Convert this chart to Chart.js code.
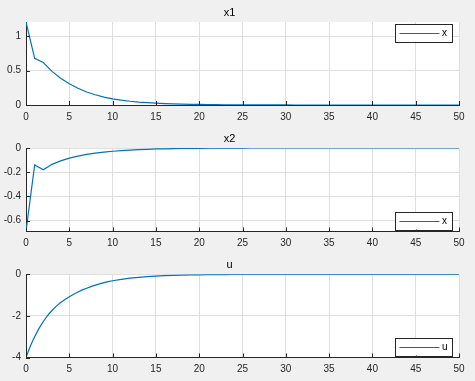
<!DOCTYPE html>
<html><head><meta charset="utf-8">
<script src="https://cdn.jsdelivr.net/npm/chart.js@4/dist/chart.umd.min.js"></script>
<style>
html,body{margin:0;padding:0;background:#f0f0f0;width:475px;height:381px;overflow:hidden;}
canvas{position:absolute;left:0;}
</style></head><body>
<canvas id="c1" width="475" height="125" style="top:0px"></canvas>
<canvas id="c2" width="475" height="126" style="top:125px"></canvas>
<canvas id="c3" width="475" height="130" style="top:251px"></canvas>
<script>
// ---- data ----
const tSteps = [0,1,2,3,4,5,6,7,8,9,10,11,12,13,14,15,16,17,18,19,20,21,22,23,24,25,26,27,28,29,30,31,32,33,34,35,36,37,38,39,40,41,42,43,44,45,46,47,48,49,50];
const x1Values = [1.21,0.68,0.62,0.49,0.39,0.31,0.245,0.19,0.15,0.115,0.09,0.07,0.055,0.043,0.034,0.027,0.021,0.017,0.013,0.010,0.008,0.006,0.005,0.004,0.003,0.002,0.002,0.001,0.001,0.001,0.001,0,0,0,0,0,0,0,0,0,0,0,0,0,0,0,0,0,0,0,0];
const x2Values = [-0.69,-0.14,-0.18,-0.135,-0.106,-0.084,-0.067,-0.053,-0.042,-0.034,-0.027,-0.021,-0.017,-0.013,-0.011,-0.008,-0.007,-0.005,-0.004,-0.003,-0.003,-0.002,-0.002,-0.001,-0.001,-0.001,0,0,0,0,0,0,0,0,0,0,0,0,0,0,0,0,0,0,0,0,0,0,0,0,0];
const tU = [0,0.5,1,1.5,2,2.5,3,3.5,4,4.5,5,5.5,6,6.5,7,7.5,8,8.5,9,9.5,10,11,12,13,14,15,16,17,18,19,20,21,22,23,24,25,26,27,28,29,30,31,32,33,34,35,36,37,38,39,40,41,42,43,44,45,46,47,48,49,50];
const uValues = [-4,-3.45,-3.0,-2.6,-2.27,-1.98,-1.74,-1.53,-1.36,-1.21,-1.08,-0.96,-0.85,-0.75,-0.67,-0.59,-0.52,-0.46,-0.40,-0.35,-0.31,-0.24,-0.185,-0.145,-0.11,-0.087,-0.067,-0.052,-0.04,-0.031,-0.024,-0.019,-0.015,-0.011,-0.009,-0.007,-0.005,-0.004,-0.003,-0.002,-0.002,-0.001,-0.001,-0.001,0,0,0,0,0,0,0,0,0,0,0,0,0,0,0,0,0];
const xTicks = [0,5,10,15,20,25,30,35,40,45,50];
const xTickLabels = ['0','5','10','15','20','25','30','35','40','45','50'];
const y1Ticks = [0,0.5,1];
const y1TickLabels = ['0','0.5','1'];
const y2Ticks = [-0.6,-0.4,-0.2,0];
const y2TickLabels = ['-0.6','-0.4','-0.2','0'];
const y3Ticks = [-4,-2,0];
const y3TickLabels = ['-4','-2','0'];
const titles = ['x1','x2','u'];
const seriesLabels = ['x','x','u'];

// ---- styling ----
const AX = '#262626', GRID = '#dfdfdf', LINE = '#0072BD';
const FONT = '"Liberation Sans", Arial, Helvetica, sans-serif';

const bgPlugin = {
  id: 'bg',
  beforeDraw(chart) {
    const a = chart.chartArea, c = chart.ctx;
    c.save(); c.fillStyle = '#ffffff';
    c.fillRect(a.left, a.top, a.right - a.left, a.bottom - a.top);
    c.restore();
  }
};
const inTicks = {
  id: 'inTicks',
  afterDraw(chart) {
    const c = chart.ctx, a = chart.chartArea, xs = chart.scales.x, ys = chart.scales.y;
    c.save(); c.strokeStyle = AX; c.lineWidth = 1;
    xs.ticks.forEach(t => {
      const px = Math.round(xs.getPixelForValue(t.value)) + 0.5;
      c.beginPath(); c.moveTo(px, a.bottom); c.lineTo(px, a.bottom - 4); c.stroke();
    });
    ys.ticks.forEach(t => {
      const py = Math.round(ys.getPixelForValue(t.value)) + 0.5;
      c.beginPath(); c.moveTo(a.left, py); c.lineTo(a.left + 4, py); c.stroke();
    });
    c.restore();
  }
};
const boxLegend = {
  id: 'boxLegend',
  afterDraw(chart, args, opts) {
    const c = chart.ctx, a = chart.chartArea;
    const w = 57, h = 17.5;
    const right = a.right - 7;
    const left = right - w;
    const top = opts.where === 'top' ? a.top + 2 : a.bottom - 2 - h;
    c.save();
    c.fillStyle = '#ffffff'; c.fillRect(left, top, w, h);
    c.strokeStyle = AX; c.lineWidth = 1;
    c.strokeRect(Math.round(left) + 0.5, Math.round(top) + 0.5, Math.round(w), Math.round(h));
    const cy = Math.round(top + h / 2) + 0.5;
    c.strokeStyle = LINE; c.lineWidth = 1.2;
    c.beginPath(); c.moveTo(left + 4.5, cy); c.lineTo(left + 44.5, cy); c.stroke();
    c.fillStyle = '#000'; c.font = '10px ' + FONT; c.textBaseline = 'middle'; c.textAlign = 'left';
    c.fillText(chart.data.datasets[0].label, left + 47, cy);
    c.restore();
  }
};

function makeChart(id, title, label, xs, ys, yMin, yMax, yTicks, yTickLabels, padTop, xAxisH, legendWhere) {
  const pts = xs.map((x, i) => ({x: x, y: ys[i]}));
  return new Chart(document.getElementById(id), {
    type: 'line',
    data: { datasets: [{ label: label, data: pts, borderColor: LINE, borderWidth: 1.2, pointRadius: 0, fill: false, tension: 0 }] },
    plugins: [bgPlugin, inTicks, boxLegend],
    options: {
      responsive: false, animation: false, devicePixelRatio: 1,
      layout: { padding: { left: 0, right: 16, top: padTop, bottom: 0 } },
      plugins: {
        legend: { display: false },
        tooltip: { enabled: false },
        title: { display: true, text: title, color: '#000', font: { family: FONT, size: 11, weight: 'normal', lineHeight: 1 }, padding: { top: 0, bottom: 3.5 } },
        boxLegend: { where: legendWhere }
      },
      scales: {
        x: {
          type: 'linear', min: 0, max: 50,
          afterBuildTicks: s => { s.ticks = xTicks.map(v => ({value: v})); },
          afterFit: s => { s.height = xAxisH; },
          grid: { color: GRID, drawTicks: false, lineWidth: 1 },
          border: { display: true, color: AX, width: 1 },
          ticks: { color: AX, font: { family: FONT, size: 10 }, padding: 6, maxRotation: 0,
                   callback: (v) => xTickLabels[xTicks.indexOf(v)] }
        },
        y: {
          type: 'linear', min: yMin, max: yMax,
          afterBuildTicks: s => { s.ticks = yTicks.map(v => ({value: v})); },
          afterFit: s => { s.width = 26; },
          grid: { color: GRID, drawTicks: false, lineWidth: 1 },
          border: { display: true, color: AX, width: 1 },
          ticks: { color: AX, font: { family: FONT, size: 10 }, padding: 5,
                   callback: (v) => yTickLabels[yTicks.indexOf(v)] }
        }
      }
    }
  });
}

makeChart('c1', titles[0], seriesLabels[0], tSteps, x1Values, 0, 1.21, y1Ticks, y1TickLabels, 7.5, 20, 'top');
makeChart('c2', titles[1], seriesLabels[1], tSteps, x2Values, -0.69, 0, y2Ticks, y2TickLabels, 8.5, 19.5, 'bottom');
makeChart('c3', titles[2], seriesLabels[2], tU, uValues, -4, 0, y3Ticks, y3TickLabels, 8.8, 23.5, 'bottom');
</script>
</body></html>
